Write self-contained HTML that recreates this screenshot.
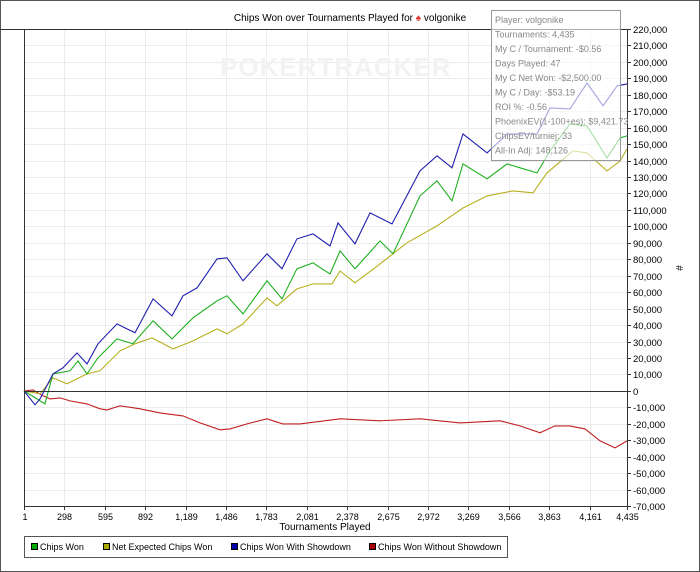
<!DOCTYPE html>
<html><head><meta charset="utf-8">
<style>
body{margin:0;background:#fff;font-family:"Liberation Sans",sans-serif;}
#wrap{position:relative;width:700px;height:572px;overflow:hidden;}
svg text{font-family:"Liberation Sans",sans-serif;}
</style></head>
<body>
<div id="wrap">
<svg id="chart" width="700" height="572">
 <rect x="0.5" y="0.5" width="699" height="571" fill="#fff" stroke="#555"/>
 <g id="grid"></g>
 <text x="220" y="76" font-size="26" fill="#f2f2f2" font-weight="bold" letter-spacing="1">POKERTRACKER</text>
 <text x="350" y="21" font-size="10" text-anchor="middle" fill="#000">Chips Won over Tournaments Played for <tspan fill="#d33">♠</tspan> volgonike</text>
 <g id="series"></g>
 <g id="axes"></g>
 <text x="325" y="530" font-size="10" text-anchor="middle">Tournaments Played</text>
 <text x="676" y="268" font-size="10" text-anchor="middle" transform="rotate(90 676 268)">#</text>
 <g>
  <rect x="491.5" y="10.5" width="129" height="150" fill="#fff" fill-opacity="0.6" stroke="#999"/>
  <g font-size="9" fill="#888">
   <text x="495" y="23">Player: volgonike</text>
   <text x="495" y="37.5">Tournaments: 4,435</text>
   <text x="495" y="52">My C / Tournament: -$0.56</text>
   <text x="495" y="66.5">Days Played: 47</text>
   <text x="495" y="81">My C Net Won: -$2,500.00</text>
   <text x="495" y="95.5">My C / Day: -$53.19</text>
   <text x="495" y="110">ROI %: -0.56</text>
   <text x="495" y="124.5">PhoenixEV(1-100+es): $9,421.73</text>
   <text x="495" y="139">ChipsEV/turniej: 33</text>
   <text x="495" y="153.5">All-In Adj: 148,126</text>
  </g>
 </g>
 <g>
  <rect x="24.5" y="536.5" width="483" height="21" fill="#fff" stroke="#555"/>
  <g><rect x="31.5" y="543.5" width="6" height="6" fill="#0a0" stroke="#000"/><text x="40" y="550" font-size="9">Chips Won</text></g>
  <g><rect x="103.5" y="543.5" width="6" height="6" fill="#aa0" stroke="#000"/><text x="112" y="550" font-size="9">Net Expected Chips Won</text></g>
  <g><rect x="231.5" y="543.5" width="6" height="6" fill="#00a" stroke="#000"/><text x="240" y="550" font-size="9">Chips Won With Showdown</text></g>
  <g><rect x="369.5" y="543.5" width="6" height="6" fill="#a00" stroke="#000"/><text x="378" y="550" font-size="9">Chips Won Without Showdown</text></g>
 </g>
</svg>
</div>
<script>
const xTicks=[1,298,595,892,1189,1486,1783,2081,2378,2675,2972,3269,3566,3863,4161,4435];
const yMin=-70000, yMax=220000, yStep=10000;
const blueT=[1,82,119,214,288,391,464,545,685,817,950,1089,1170,1273,1420,1494,1611,1788,1898,2008,2126,2251,2310,2435,2545,2707,2913,3038,3148,3229,3406,3553,3773,3869,4016,4141,4259,4362,4435];
const blueV=[0,-8.5,-4.9,10.3,14.0,23.1,16.4,28.6,40.7,35.3,55.9,45.6,57.8,62.6,80.2,80.9,66.9,83.3,74.2,92.4,95.4,88.1,102.1,89.4,108.2,101.5,133.7,142.9,135.6,156.2,144.7,156.2,156.2,172.0,171.4,187.2,173.3,185.4,186.6];
const greenT=[1,155,214,339,398,464,545,685,802,950,1089,1244,1420,1494,1611,1788,1898,2008,2126,2251,2325,2435,2619,2714,2913,3038,3148,3229,3406,3553,3648,3773,3869,4016,4141,4288,4384,4435];
const greenV=[0,-7.9,10.3,12.2,18.2,10.3,20.1,31.6,28.6,42.6,31.6,44.4,54.7,57.8,46.8,66.9,55.9,74.2,77.8,71.1,85.1,74.2,91.2,83.3,118.5,127.7,115.5,138.0,128.9,138.0,135.6,132.5,145.9,162.3,161.1,141.6,153.8,155.0];
const yellowT=[1,119,214,317,464,560,707,817,942,1097,1244,1420,1494,1611,1788,1861,2008,2126,2266,2325,2435,2619,2817,3038,3229,3406,3597,3744,3847,4038,4141,4288,4384,4435];
const yellowV=[0,-1.8,7.9,4.3,10.3,12.2,24.3,28.6,32.2,25.5,30.4,37.7,34.7,40.7,56.5,51.7,62.0,65.0,65.0,72.9,65.7,77.2,90.0,100.3,111.2,118.5,121.6,120.4,132.5,145.9,144.7,133.7,139.8,147.1];
const redT=[1,67,141,192,266,339,464,560,611,707,854,1001,1170,1295,1442,1516,1641,1788,1905,2030,2325,2619,2913,3207,3501,3648,3795,3905,4016,4126,4237,4347,4435];
const redV=[0,0.6,-3.0,-4.9,-4.3,-6.1,-7.9,-10.9,-11.6,-9.1,-10.9,-13.4,-15.2,-19.5,-23.7,-23.1,-20.1,-17.0,-20.1,-20.1,-17.0,-18.2,-17.0,-19.5,-18.2,-21.3,-25.5,-21.3,-21.3,-23.1,-30.4,-34.7,-30.4];

const L=24,R=627,T=29,B=506,tMin=1,tMax=4435;
const sx=t=>L+(t-tMin)/(tMax-tMin)*(R-L);
const sy=v=>T+(yMax-v)/(yMax-yMin)*(B-T);
const NS="http://www.w3.org/2000/svg";
function mk(tag,attrs,parent){const e=document.createElementNS(NS,tag);for(const k in attrs)e.setAttribute(k,attrs[k]);parent.appendChild(e);return e;}
const grid=document.getElementById('grid'),axes=document.getElementById('axes'),series=document.getElementById('series');
for(let v=yMin;v<=yMax;v+=yStep){
 const y=Math.round(sy(v))+0.5;
 const g=mk('line',{x1:L,x2:R,y1:y,y2:y,stroke:'#ececec'},grid);
 
 
 const tk=mk('line',{x1:R,x2:R+4,y1:y,y2:y,stroke:'#333'},axes);
 
 
 const lb=mk('text',{x:R+6,y:y+3.5,'font-size':9.5,fill:'#000'},axes);
 lb.textContent=v.toLocaleString('en-US');
 
 
}
xTicks.forEach((t,i)=>{
 const x=Math.round(sx(t))+0.5;
 const g=mk('line',{x1:x,x2:x,y1:T,y2:B,stroke:'#ececec'},grid);
 
 
 const tk=mk('line',{x1:x,x2:x,y1:B,y2:B+4,stroke:'#333'},axes);
 
 
 const lb=mk('text',{x:i===0?x-2:x,y:B+14,'font-size':9,'text-anchor':i===0?'start':'middle'},axes);
 lb.textContent=t.toLocaleString('en-US');
 
 
});
const z=Math.round(sy(0))+0.5;
const zl=mk('line',{x1:L,x2:R,y1:z,y2:z,stroke:'#333'},axes);


const fr=mk('path',{d:`M0 ${T+0.5}H${R+0.5}V${B+0.5}H${L+0.5}V${T+0.5}`,fill:'none',stroke:'#333'},axes);


function line(ts,vs,color,name){
 const d=ts.map((t,i)=>(i?'L':'M')+sx(t).toFixed(1)+' '+sy(vs[i]*1000).toFixed(1)).join(' ');
 const p=mk('path',{d:d,fill:'none',stroke:color,'stroke-width':1.1},series);
 
 
}
line(redT,redV,'#c02020','line-chips-won-without-showdown');
line(yellowT,yellowV,'#b8b020','line-net-expected-chips-won');
line(greenT,greenV,'#20b020','line-chips-won');
line(blueT,blueV,'#2020b0','line-chips-won-with-showdown');
</script>
</body></html>
